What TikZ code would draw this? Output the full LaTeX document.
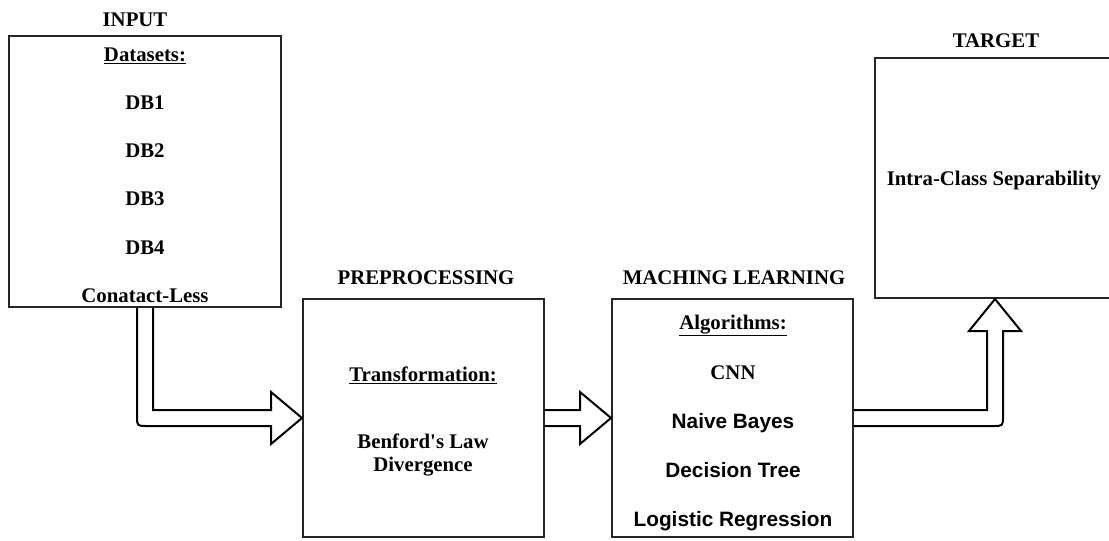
\documentclass[tikz,border=0pt]{standalone}
\usepackage{fontspec}
\setmainfont{Liberation Serif}
\newfontfamily\arialfont{Liberation Sans}
\usetikzlibrary{calc,fit}
\begin{document}
\begin{tikzpicture}[x=0.75pt,y=-0.75pt,
  box/.style={draw=black!85,line width=1.5pt,inner sep=0pt},
  lbl/.style={anchor=base,inner sep=0pt,font=\fontsize{15.6}{18}\selectfont\bfseries},
  slbl/.style={anchor=base,inner sep=0pt,font=\fontsize{15.6}{18}\selectfont\arialfont\bfseries},
  blockarrow/.style={draw=black,line width=1.5pt,line join=miter}]
\useasboundingbox (0,0) rectangle (1109,540);
% boxes
\node[box,fit={(9,36) (281,307)}] (input) {};
\node[box,fit={(303,299) (544,537)}] (prep) {};
\node[box,fit={(612,299) (853,537)}] (ml) {};
\node[box,fit={(875,58) (1115,298)}] (target) {};
% titles
\node[lbl] (tin) at (135,26) {INPUT};
\node[lbl] (tpre) at (426,284) {PREPROCESSING};
\node[lbl] (tml) at (734,284) {MACHING LEARNING};
\node[lbl] (ttg) at (996,47) {TARGET};
% input contents
\node[lbl] (ds) at (145,61) {\underline{Datasets:}};
\node[lbl] (db1) at (145,109) {DB1};
\node[lbl] (db2) at (145,157) {DB2};
\node[lbl] (db3) at (145,205) {DB3};
\node[lbl] (db4) at (145,254) {DB4};
\node[lbl] (cl) at (145,302) {Conatact-Less};
% preprocessing contents
\node[lbl] (tr) at (423,381) {\underline{Transformation:}};
\node[lbl] (bl) at (423,448) {Benford\textquotesingle s Law};
\node[lbl] (dv) at (423,471) {Divergence};
% ML contents
\node[lbl] (alg) at (733,329) {\underline{Algorithms:}};
\node[lbl] (cnn) at (733,379) {CNN};
\node[slbl] (nb) at (733,428) {Naive Bayes};
\node[slbl] (dt) at (733,477) {Decision Tree};
\node[slbl] (lr) at (733,526) {Logistic Regression};
% target contents
\node[lbl] (ics) at (994,185) {Intra-Class Separability};
% arrow input -> preprocessing
\coordinate (a1c) at (input.south |- prep.west);
\draw[blockarrow] ($(input.south)+(-8,0)$) -- ($(a1c)+(-8,-2)$)
  .. controls ($(a1c)+(-8,8)$) .. ($(a1c)+(2,8)$)
  -- ($(prep.west)+(-31,8)$) -- ($(prep.west)+(-31,26)$) -- (prep.west)
  -- ($(prep.west)+(-31,-26)$) -- ($(prep.west)+(-31,-8)$)
  -- ($(a1c)+(8,-8)$) -- ($(input.south)+(8,0)$);
% arrow preprocessing -> ML
\draw[blockarrow] ($(prep.east)+(0,-8)$) -- ($(ml.west)+(-31,-8)$)
  -- ($(ml.west)+(-31,-26)$) -- (ml.west) -- ($(ml.west)+(-31,26)$)
  -- ($(ml.west)+(-31,8)$) -- ($(prep.east)+(0,8)$);
% arrow ML -> target
\coordinate (a3c) at (ml.east -| target.south);
\draw[blockarrow] ($(ml.east)+(0,-8)$) -- ($(a3c)+(-8,-8)$)
  -- ($(target.south)+(-8,32)$) -- ($(target.south)+(-26,32)$) -- (target.south)
  -- ($(target.south)+(26,32)$) -- ($(target.south)+(8,32)$)
  -- ($(a3c)+(8,-2)$) .. controls ($(a3c)+(8,8)$) .. ($(a3c)+(-2,8)$)
  -- ($(ml.east)+(0,8)$);
\end{tikzpicture}
\end{document}
